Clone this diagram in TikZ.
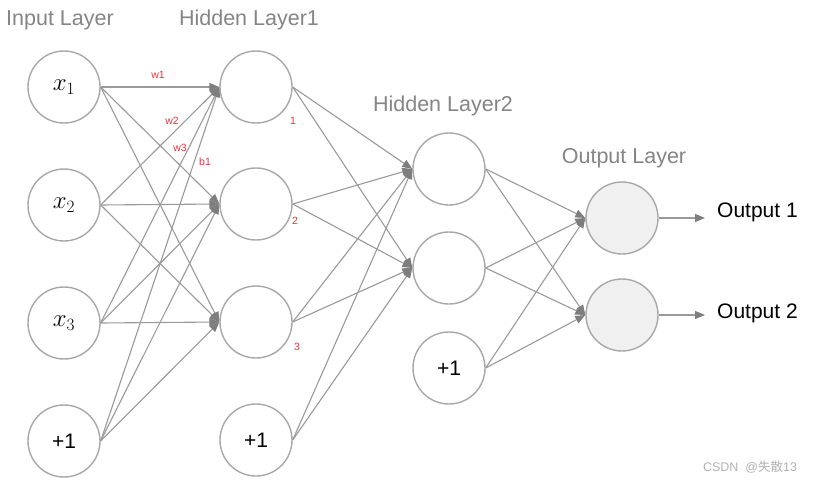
\documentclass[tikz,border=0pt]{standalone}
\usepackage{fontspec}
\setsansfont{Liberation Sans}
\newfontfamily\cjk{Noto Sans CJK SC}
\usetikzlibrary{arrows.meta}
\definecolor{edgegray}{HTML}{9A9A9A}
\definecolor{tipgray}{HTML}{7E7E7E}
\definecolor{ringgray}{HTML}{A8A8A8}
\definecolor{titlegray}{HTML}{858585}
\definecolor{outfill}{HTML}{F0F0F0}
\definecolor{lblred}{HTML}{E8343C}
\begin{document}
\begin{tikzpicture}[x=1pt,y=-1pt,
  neuron/.style={circle,draw=ringgray,line width=1.4pt,minimum size=72pt,inner sep=0pt,fill=white},
  outneuron/.style={neuron,fill=outfill},
  title/.style={font=\sffamily\fontsize{21.5}{24}\selectfont,text=titlegray,inner sep=0pt},
  wlabel/.style={font=\sffamily\fontsize{10.5}{12}\selectfont,text=lblred,inner sep=0pt},
  conn/.style={draw=edgegray,line width=1.1pt,-{Triangle[length=10pt,width=8pt,color=tipgray]}},
  mathlbl/.style={font=\fontsize{27}{30}\selectfont},
  onelbl/.style={font=\sffamily\fontsize{21}{24}\selectfont}
]
\useasboundingbox[fill=white] (0,0) rectangle (814,482);

% titles
\node[title] (tin) at (60,20) {Input Layer};
\node[title] (th1) at (249,20) {Hidden Layer1};
\node[title] (th2) at (443,106) {Hidden Layer2};
\node[title] (tout) at (624,158) {Output Layer};

% input layer
\node[neuron,mathlbl] (i1) at (64,87) {$x_1$};
\node[neuron,mathlbl] (i2) at (64,205) {$x_2$};
\node[neuron,mathlbl] (i3) at (64,323) {$x_3$};
\node[neuron,onelbl] (i4) at (64,441) {+1};

% hidden layer 1
\node[neuron] (a1) at (256,87) {};
\node[neuron] (a2) at (256,204) {};
\node[neuron] (a3) at (256,322) {};
\node[neuron,onelbl] (a4) at (256,440) {+1};

% hidden layer 2
\node[neuron] (b1) at (449,169) {};
\node[neuron] (b2) at (449,268) {};
\node[neuron,onelbl] (b3) at (449,368) {+1};

% output layer
\node[outneuron] (o1) at (622,218) {};
\node[outneuron] (o2) at (622,315) {};

% input -> hidden1
\foreach \s in {i1,i2,i3,i4}
  \foreach \t in {a1,a2,a3}
    \draw[conn] (\s.east) -- (\t.west);

% hidden1 -> hidden2
\foreach \s in {a1,a2,a3,a4}
  \foreach \t in {b1,b2}
    \draw[conn] (\s.east) -- (\t.west);

% hidden2 -> output
\foreach \s in {b1,b2,b3}
  \foreach \t in {o1,o2}
    \draw[conn] (\s.east) -- (\t.west);

% output arrows
\coordinate (e1) at (705,218);
\coordinate (e2) at (705,315);
\draw[conn] (o1.east) -- (e1);
\draw[conn] (o2.east) -- (e2);
\node[onelbl,anchor=west,inner sep=0pt] (out1) at (717,212) {Output 1};
\node[onelbl,anchor=west,inner sep=0pt] (out2) at (717,313) {Output 2};

% red labels
\node[wlabel] (lw1) at (158,75) {w1};
\node[wlabel] (lw2) at (172,121) {w2};
\node[wlabel] (lw3) at (180,148) {w3};
\node[wlabel] (lb1) at (205,162) {b1};
\node[wlabel] (l1) at (293,121) {1};
\node[wlabel] (l2) at (295,221) {2};
\node[wlabel] (l3) at (297,347) {3};

% watermark
\node[font=\fontsize{12.5}{14}\selectfont,text=black!30,inner sep=0pt] (wm) at (750,467) {\sffamily CSDN\ \ @\cjk 失散\sffamily 13};
\end{tikzpicture}
\end{document}
